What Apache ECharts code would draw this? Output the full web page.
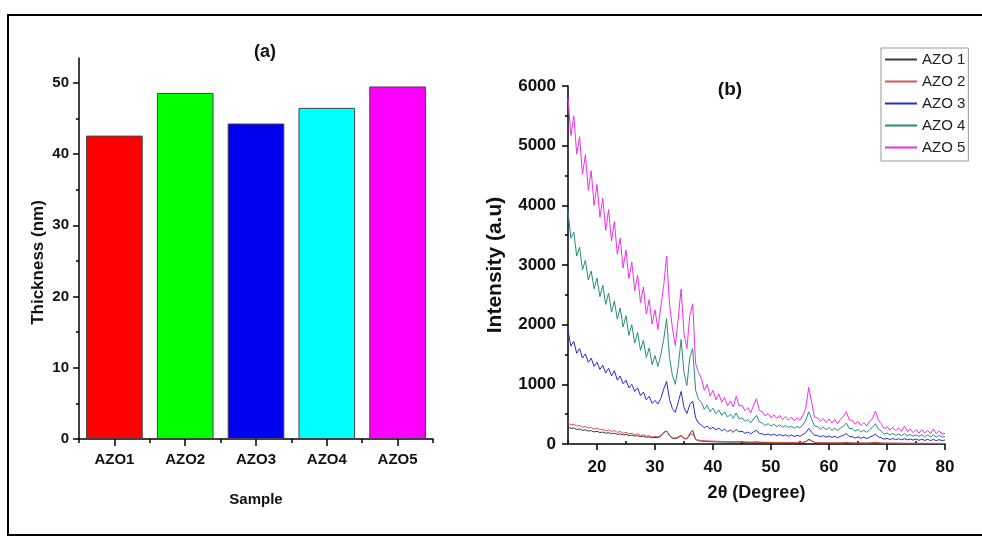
<!DOCTYPE html>
<html>
<head>
<meta charset="utf-8">
<script src="https://cdn.jsdelivr.net/npm/echarts@6/dist/echarts.min.js"></script>
<style>
html,body{margin:0;padding:0;background:#fff;}
#chart{width:982px;height:537px;}
</style>
</head>
<body>
<div id="chart"></div>
<script>
// ---- Panel (a): film thickness ----
const categories = ['AZO1', 'AZO2', 'AZO3', 'AZO4', 'AZO5'];
const thickness = [42.6, 48.6, 44.3, 46.5, 49.5];
const thicknessTicks = [0, 10, 20, 30, 40, 50];
const thicknessMinorTicks = [5, 15, 25, 35, 45];

// ---- Panel (b): XRD patterns ----
const seriesNames = ['AZO 1', 'AZO 2', 'AZO 3', 'AZO 4', 'AZO 5'];
const angleTicks = [20, 30, 40, 50, 60, 70, 80];
const angleMinorTicks = [15, 25, 35, 45, 55, 65, 75];

const angles = [
  15,15.5,16,16.5,17,17.5,18,18.5,19,19.5,
  20,20.5,21,21.5,22,22.5,23,23.5,24,24.5,
  25,25.5,26,26.5,27,27.5,28,28.5,29,29.5,
  30,30.5,31,31.5,32,32.5,33,33.5,34,34.5,
  35,35.5,36,36.5,37,37.5,38,38.5,39,39.5,
  40,40.5,41,41.5,42,42.5,43,43.5,44,44.5,
  45,45.5,46,46.5,47,47.5,48,48.5,49,49.5,
  50,50.5,51,51.5,52,52.5,53,53.5,54,54.5,
  55,55.5,56,56.5,57,57.5,58,58.5,59,59.5,
  60,60.5,61,61.5,62,62.5,63,63.5,64,64.5,
  65,65.5,66,66.5,67,67.5,68,68.5,69,69.5,
  70,70.5,71,71.5,72,72.5,73,73.5,74,74.5,
  75,75.5,76,76.5,77,77.5,78,78.5,79,79.5,
  80
];

const azo1 = [
  290,260,268,245,252,228,238,215,225,203,
  212,192,200,182,190,172,181,162,170,152,
  160,142,150,132,140,122,130,112,120,104,
  110,108,130,190,215,140,95,88,105,140,
  90,85,170,230,75,55,48,44,42,40,
  38,36,35,34,33,32,31,30,34,30,
  29,28,27,26,27,30,25,24,24,23,
  23,22,22,21,21,20,20,20,19,19,
  20,25,40,80,55,26,20,18,18,17,
  17,16,16,16,16,20,26,18,15,15,
  14,14,14,13,15,20,30,20,13,12,
  12,12,11,11,11,10,10,10,10,10,
  10,9,9,9,9,9,9,8,8,8,
  8
];
const azo2 = [
  360,320,330,300,310,280,295,265,280,250,
  265,235,250,220,235,210,225,195,210,180,
  195,170,180,155,170,140,155,130,140,115,
  128,120,140,200,220,150,105,100,120,150,
  100,90,150,170,80,65,60,55,52,50,
  48,46,45,43,42,40,40,38,42,38,
  36,35,34,33,34,38,32,30,30,29,
  28,27,27,26,26,25,25,24,24,23,
  24,28,40,70,50,28,24,22,22,21,
  21,20,20,19,20,24,30,22,19,18,
  18,17,17,16,18,22,30,22,16,15,
  15,14,14,14,13,13,13,12,12,12,
  12,11,11,11,11,10,10,10,10,10,
  10
];
const azo3 = [
  1900,1640,1720,1520,1600,1440,1510,1370,1440,1300,
  1370,1250,1320,1190,1270,1140,1230,1070,1140,1010,
  1070,940,1000,880,940,810,870,740,800,680,
  730,670,760,920,1050,750,590,530,700,880,
  610,510,660,720,440,350,320,270,300,250,
  280,235,265,220,250,205,235,195,245,205,
  215,180,200,170,205,230,175,170,150,170,
  145,165,140,160,135,155,130,150,125,145,
  130,160,190,260,200,145,145,120,140,115,
  135,110,130,105,130,145,175,125,125,100,
  120,95,115,90,115,135,165,120,105,80,
  95,75,92,72,88,70,90,68,84,66,
  82,62,80,60,78,58,76,56,74,55,
  68
];
const azo4 = [
  3900,3450,3550,3150,3300,2920,3080,2750,2900,2600,
  2780,2470,2660,2340,2530,2210,2400,2090,2280,1960,
  2150,1820,2000,1690,1870,1570,1740,1450,1610,1330,
  1480,1300,1500,1750,2100,1450,1150,1000,1300,1750,
  1200,980,1450,1600,900,750,700,580,650,540,
  600,510,570,480,540,450,500,430,520,420,
  440,380,410,360,420,480,370,350,310,340,
  300,330,290,320,280,310,275,300,265,295,
  270,320,400,540,420,300,290,250,285,240,
  275,230,265,225,270,300,350,260,260,215,
  245,200,230,195,240,280,340,250,220,165,
  185,150,180,145,170,140,175,135,160,130,
  155,125,155,120,150,120,155,115,145,115,
  125
];
const azo5 = [
  5800,5170,5500,4860,5150,4520,4850,4250,4580,4000,
  4350,3800,4120,3580,3930,3400,3730,3180,3450,2950,
  3250,2770,3050,2570,2830,2370,2630,2180,2420,2010,
  2250,1920,2300,2650,3150,2350,1950,1650,2100,2600,
  1850,1600,2150,2350,1350,1200,1100,900,1000,800,
  900,740,840,700,780,640,720,620,800,640,
  650,560,610,520,650,760,560,540,470,510,
  440,490,430,480,410,460,400,450,390,440,
  400,480,600,950,700,450,440,380,430,360,
  420,350,410,340,420,460,540,400,400,330,
  380,310,360,300,380,430,550,400,340,260,
  290,230,280,220,270,210,300,210,250,190,
  240,180,240,180,230,170,250,170,220,160,
  180
];
const xrdValues = [azo1, azo2, azo3, azo4, azo5];

// ---- styles ----
const barColors = ['#ff0000', '#00ff00', '#0000f0', '#00ffff', '#ff00ff'];
const lineColors = ['#3a3a3a', '#e05050', '#2a2ad8', '#2a8c7c', '#ee30ee'];
const FONT = '"Liberation Sans", Arial, sans-serif';
const axisLineStyle = { color: '#000', width: 1.5 };

const chart = echarts.init(document.getElementById('chart'), null, { renderer: 'canvas' });

const option = {
  backgroundColor: '#ffffff',
  animation: false,
  textStyle: { fontFamily: FONT },
  title: [
    { text: '(a)', left: 260, top: 38, textAlign: 'center',
      textStyle: { fontFamily: FONT, fontSize: 18, fontWeight: 'bold', color: '#111' } },
    { text: '(b)', left: 725, top: 75, textAlign: 'center',
      textStyle: { fontFamily: FONT, fontSize: 19, fontWeight: 'bold', color: '#111' } }
  ],
  legend: {
    data: seriesNames,
    orient: 'vertical',
    left: 881,
    top: 48,
    padding: [4, 3, 6, 3],
    itemWidth: 32,
    itemHeight: 14,
    itemGap: 7,
    borderColor: '#999',
    borderWidth: 1,
    backgroundColor: '#fff',
    itemStyle: { opacity: 0 },
    textStyle: { fontFamily: FONT, fontSize: 15, color: '#222' }
  },
  grid: [
    { left: 79, top: 58, width: 354, height: 381 },
    { left: 568, top: 86, width: 377, height: 358 }
  ],
  xAxis: [
    { // boundary ticks for bar panel
      type: 'category', gridIndex: 0, data: categories, boundaryGap: true,
      axisLine: { lineStyle: axisLineStyle },
      axisTick: { show: true, length: 4, lineStyle: axisLineStyle },
      axisLabel: { show: false },
      splitLine: { show: false }
    },
    { // centred ticks + labels for bar panel
      type: 'category', gridIndex: 0, data: categories, boundaryGap: true,
      position: 'bottom',
      axisLine: { show: false },
      axisTick: { show: true, alignWithLabel: true, length: 7, lineStyle: axisLineStyle },
      axisLabel: { fontFamily: FONT, fontSize: 15, fontWeight: 'bold', color: '#111', margin: 13 },
      splitLine: { show: false },
      name: 'Sample', nameLocation: 'middle', nameGap: 53,
      nameTextStyle: { fontFamily: FONT, fontSize: 15, fontWeight: 'bold', color: '#111' }
    },
    { // XRD main axis
      type: 'value', gridIndex: 1, min: 15, max: 80,
      axisLine: { onZero: false, lineStyle: axisLineStyle },
      axisTick: { show: true, length: 6, customValues: angleTicks, lineStyle: axisLineStyle },
      axisLabel: { customValues: angleTicks, fontFamily: FONT, fontSize: 17, fontWeight: 'bold', color: '#111', margin: 15 },
      splitLine: { show: false },
      name: '2θ (Degree)', nameLocation: 'middle', nameGap: 40,
      nameTextStyle: { fontFamily: FONT, fontSize: 18, fontWeight: 'bold', color: '#111' }
    },
    { // XRD minor ticks
      type: 'value', gridIndex: 1, min: 15, max: 80,
      axisLine: { show: false },
      axisTick: { show: true, length: 3, customValues: angleMinorTicks, lineStyle: axisLineStyle },
      axisLabel: { show: false },
      splitLine: { show: false }
    }
  ],
  yAxis: [
    {
      type: 'value', gridIndex: 0, min: 0, max: 53.5,
      axisLine: { show: true, lineStyle: axisLineStyle },
      axisTick: { show: true, length: 6, customValues: thicknessTicks, lineStyle: axisLineStyle },
      axisLabel: { customValues: thicknessTicks, fontFamily: FONT, fontSize: 15, fontWeight: 'bold', color: '#111', margin: 10 },
      splitLine: { show: false },
      name: 'Thickness (nm)', nameLocation: 'middle', nameGap: 32,
      nameTextStyle: { fontFamily: FONT, fontSize: 17, fontWeight: 'bold', color: '#111', padding: [0, 28, 0, 0] }
    },
    {
      type: 'value', gridIndex: 0, min: 0, max: 53.5, position: 'left',
      axisLine: { show: false },
      axisTick: { show: true, length: 3, customValues: thicknessMinorTicks, lineStyle: axisLineStyle },
      axisLabel: { show: false },
      splitLine: { show: false }
    },
    {
      type: 'value', gridIndex: 1, min: 0, max: 6000, interval: 1000,
      axisLine: { show: true, lineStyle: axisLineStyle },
      axisTick: { show: true, length: 6, lineStyle: axisLineStyle },
      minorTick: { show: true, splitNumber: 2, length: 3, lineStyle: axisLineStyle },
      axisLabel: { formatter: (v) => String(v), fontFamily: FONT, fontSize: 17, fontWeight: 'bold', color: '#111', margin: 12 },
      splitLine: { show: false },
      minorSplitLine: { show: false },
      name: 'Intensity (a.u)', nameLocation: 'middle', nameGap: 62,
      nameTextStyle: { fontFamily: FONT, fontSize: 21, fontWeight: 'bold', color: '#111' }
    }
  ],
  graphic: [
    { type: 'rect', shape: { x: 8, y: 15, width: 1000, height: 520 },
      style: { fill: 'none', stroke: '#000', lineWidth: 2 }, silent: true, z: 100 }
  ],
  series: [
    {
      type: 'bar', xAxisIndex: 0, yAxisIndex: 0,
      barCategoryGap: '20%',
      data: thickness.map((v, i) => ({ value: v, itemStyle: { color: barColors[i] } })),
      itemStyle: { borderColor: '#444', borderWidth: 1 }
    }
  ].concat(seriesNames.map((name, i) => ({
    name: name,
    type: 'line',
    xAxisIndex: 2,
    yAxisIndex: 2,
    symbol: 'none',
    showSymbol: false,
    sampling: 'none',
    color: lineColors[i],
    lineStyle: { width: 1, color: lineColors[i] },
    data: angles.map((a, j) => [a, xrdValues[i][j]])
  })))
};

chart.setOption(option);
</script>
</body>
</html>
